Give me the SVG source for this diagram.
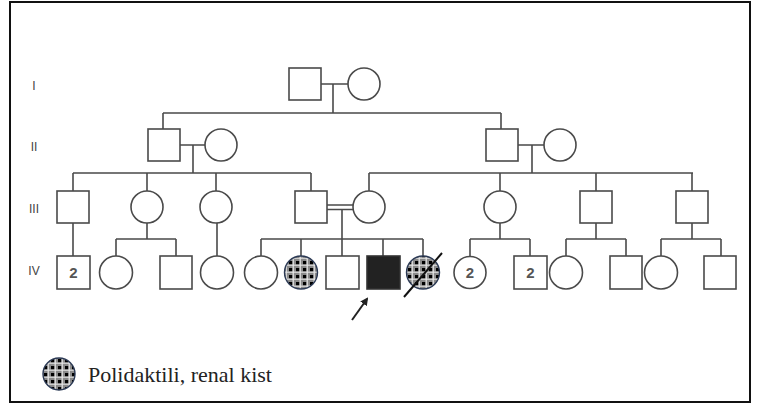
<svg xmlns="http://www.w3.org/2000/svg" width="758" height="406" viewBox="0 0 758 406">
<style>
.n{fill:#fff;stroke:#4a4a4a;stroke-width:1.6}
.c{fill:none;stroke:#4a4a4a;stroke-width:1.6}
.g{font-family:"Liberation Sans",Arial,sans-serif;font-size:12px;fill:#444;text-anchor:middle}
.num{font-family:"Liberation Sans",Arial,sans-serif;font-size:15px;font-weight:bold;fill:#555;text-anchor:middle}
.aff{fill:url(#chk);stroke:#2c3a55;stroke-width:1.4}
</style>
<defs>
<pattern id="chk" width="7" height="7" patternUnits="userSpaceOnUse" x="1" y="1">
<rect width="7" height="7" fill="#8a8a8a"/>
<rect x="0" y="4.6" width="7" height="1.2" fill="#ddd"/>
<rect x="4.6" y="0" width="1.2" height="7" fill="#e8e8e8"/>
<rect x="1" y="1" width="3.2" height="3.2" fill="#000"/>
</pattern>
<marker id="ah" markerWidth="8" markerHeight="8" refX="6" refY="4" orient="auto" markerUnits="userSpaceOnUse">
<path d="M0,0 L8,4 L0,8 Z" fill="#222"/>
</marker>
</defs>
<rect x="10" y="2" width="740" height="400" fill="#fff" stroke="#111" stroke-width="2"/>
<g id="gen-labels">
<text class="g" x="34" y="90">I</text>
<text class="g" x="34" y="151">II</text>
<text class="g" x="34" y="213">III</text>
<text class="g" x="34" y="275">IV</text>
</g>
<g id="connectors" class="c">
<path d="M321,84 H348 M333,84 V113 M163,113 H501 M163,113 V129 M501,113 V129"/>
<path d="M180,145 H205 M193,145 V173 M73,173 H311 M73,173 V191 M147,173 V191 M216,173 V191 M311,173 V191"/>
<path d="M518,145 H544 M532,145 V173 M369,173 H693 M369,173 V191 M500,173 V191 M596,173 V191 M692,173 V191"/>
<path d="M327,205 H353 M327,209.5 H353 M342,209.5 V239 M261,239 H423 M261,239 V256 M301,239 V256 M342,239 V256 M383,239 V256 M423,239 V256"/>
<path d="M73,223 V256 M147,223 V239 M116,239 H176 M116,239 V256 M176,239 V256 M217,223 V256"/>
<path d="M500,223 V239 M470,239 H530 M470,239 V256 M530,239 V256"/>
<path d="M596,223 V239 M566,239 H626 M566,239 V256 M626,239 V256"/>
<path d="M692,223 V239 M661,239 H721 M661,239 V256 M721,239 V256"/>
</g>
<g id="I-1"><rect class="n" x="289" y="68" width="32" height="32"/></g>
<g id="I-2"><circle class="n" cx="364" cy="84" r="16"/></g>
<g id="II-1"><rect class="n" x="148" y="129" width="32" height="32"/></g>
<g id="II-2"><circle class="n" cx="221" cy="145" r="16"/></g>
<g id="II-3"><rect class="n" x="486" y="129" width="32" height="32"/></g>
<g id="II-4"><circle class="n" cx="560" cy="145" r="16"/></g>
<g id="III-1"><rect class="n" x="57" y="191" width="32" height="32"/></g>
<g id="III-2"><circle class="n" cx="147" cy="207" r="16"/></g>
<g id="III-3"><circle class="n" cx="216" cy="207" r="16"/></g>
<g id="III-4"><rect class="n" x="295" y="191" width="32" height="32"/></g>
<g id="III-5"><circle class="n" cx="369" cy="207" r="16"/></g>
<g id="III-6"><circle class="n" cx="500" cy="207" r="16"/></g>
<g id="III-7"><rect class="n" x="580" y="191" width="32" height="32"/></g>
<g id="III-8"><rect class="n" x="676" y="191" width="32" height="32"/></g>
<g id="IV-1"><rect class="n" x="57" y="256" width="33" height="33"/><text class="num" x="73.5" y="278">2</text></g>
<g id="IV-2"><circle class="n" cx="116" cy="272.5" r="16.5"/></g>
<g id="IV-3"><rect class="n" x="160" y="256" width="32" height="33"/></g>
<g id="IV-4"><circle class="n" cx="217" cy="272.5" r="16.5"/></g>
<g id="IV-5"><circle class="n" cx="261" cy="272.5" r="16.5"/></g>
<g id="IV-6"><circle class="aff" cx="301" cy="272.5" r="16.5"/></g>
<g id="IV-7"><rect class="n" x="326" y="256" width="33" height="33"/></g>
<g id="IV-8"><rect x="367" y="256" width="33" height="33" fill="#222" stroke="#333" stroke-width="1.6"/></g>
<g id="IV-9"><circle class="aff" cx="423" cy="272.5" r="16.5"/><line x1="404" y1="297" x2="442" y2="253" stroke="#111" stroke-width="2"/></g>
<g id="IV-10"><circle class="n" cx="470" cy="272.5" r="16"/><text class="num" x="470" y="278">2</text></g>
<g id="IV-11"><rect class="n" x="514" y="256" width="33" height="33"/><text class="num" x="530.5" y="278">2</text></g>
<g id="IV-12"><circle class="n" cx="566" cy="272.5" r="16.5"/></g>
<g id="IV-13"><rect class="n" x="610" y="256" width="32" height="33"/></g>
<g id="IV-14"><circle class="n" cx="661" cy="272.5" r="16.5"/></g>
<g id="IV-15"><rect class="n" x="704" y="256" width="32" height="33"/></g>
<g id="proband-arrow"><line x1="352" y1="320" x2="367" y2="299" stroke="#222" stroke-width="2" marker-end="url(#ah)"/></g>
<g id="legend">
<circle class="aff" cx="59" cy="374" r="16"/>
<text x="88" y="382" font-family="'Liberation Serif','Times New Roman',serif" font-size="22" fill="#222">Polidaktili, renal kist</text>
</g>
</svg>
